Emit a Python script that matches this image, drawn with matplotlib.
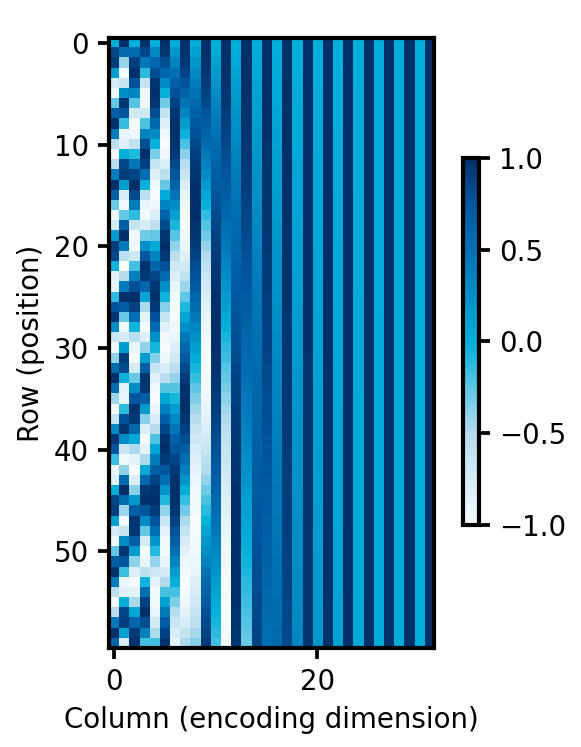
import matplotlib
matplotlib.use("Agg")
import matplotlib.pyplot as plt
from matplotlib.colors import LinearSegmentedColormap
import numpy as np

# values, one list per column, rows 0..59 top to bottom
col_00 = [0, .84, .91, .14, -.76, -.96, -.28, .66, .99, .41, -.54, -1.0, -.54, .42, .99, .65, -.29, -.96, -.75, .15, .91, .84, -.01, -.85, -.91, -.13, .76, .96, .27, -.66, -.99, -.40, .55, 1.0, .53, -.43, -.99, -.64, .30, .96, .75, -.16, -.92, -.83, .02, .85, .90, .12, -.77, -.95, -.26, .67, .99, .40, -.56, -1.0, -.52, .44, .99, .64]
col_01 = [1, .54, -.42, -.99, -.65, .28, .96, .75, -.15, -.91, -.84, 0, .84, .91, .14, -.76, -.96, -.28, .66, .99, .41, -.55, -1.0, -.53, .42, .99, .65, -.29, -.96, -.75, .15, .91, .83, -.01, -.85, -.90, -.13, .77, .96, .27, -.67, -.99, -.40, .56, 1.0, .53, -.43, -.99, -.64, .30, .96, .74, -.16, -.92, -.83, .02, .85, .90, .12, -.77]
col_02 = [0, .53, .90, .99, .78, .32, -.23, -.71, -.98, -.94, -.61, -.10, .45, .86, 1.0, .84, .41, -.13, -.64, -.95, -.97, -.69, -.19, .36, .80, 1.0, .88, .50, -.04, -.56, -.92, -.99, -.75, -.29, .27, .74, .98, .93, .58, .06, -.48, -.87, -1.0, -.81, -.38, .17, .67, .96, .96, .66, .16, -.39, -.82, -1.0, -.87, -.47, .07, .60, .93, .98]
col_03 = [1, .85, .43, -.12, -.63, -.95, -.97, -.70, -.21, .34, .79, 1.0, .89, .51, -.02, -.55, -.91, -.99, -.77, -.31, .25, .73, .98, .93, .60, .08, -.47, -.87, -1.0, -.83, -.40, .15, .65, .96, .96, .67, .17, -.38, -.81, -1.0, -.88, -.48, .06, .58, .93, .99, .74, .27, -.28, -.75, -.99, -.92, -.57, -.04, .50, .88, 1.0, .80, .36, -.19]
col_04 = [0, .31, .59, .81, .95, 1.0, .95, .80, .57, .29, -.02, -.33, -.61, -.83, -.96, -1.0, -.94, -.79, -.56, -.27, .04, .35, .62, .84, .96, 1.0, .93, .77, .54, .25, -.06, -.37, -.64, -.85, -.97, -1.0, -.92, -.76, -.53, -.22, .08, .39, .66, .86, .98, 1.0, .92, .75, .51, .20, -.10, -.41, -.68, -.87, -.98, -.99, -.91, -.73, -.48, -.18]
col_05 = [1, .95, .81, .58, .30, -.01, -.32, -.60, -.82, -.96, -1.0, -.94, -.79, -.56, -.28, .03, .34, .62, .83, .96, 1.0, .94, .78, .55, .26, -.05, -.36, -.63, -.84, -.97, -1.0, -.93, -.77, -.53, -.24, .07, .38, .65, .85, .97, 1.0, .92, .75, .51, .21, -.09, -.40, -.67, -.86, -.98, -.99, -.91, -.74, -.49, -.19, .11, .42, .68, .88, .98]
col_06 = [0, .18, .35, .51, .65, .78, .88, .95, .99, 1.0, .98, .93, .85, .74, .61, .46, .29, .12, -.06, -.23, -.40, -.56, -.70, -.81, -.90, -.97, -1.0, -1.0, -.96, -.90, -.81, -.70, -.56, -.40, -.24, -.06, .12, .29, .46, .61, .74, .85, .93, .98, 1.0, .99, .95, .88, .77, .65, .51, .35, .17, 0, -.18, -.35, -.51, -.65, -.78, -.88]
col_07 = [1, .98, .94, .86, .76, .63, .48, .32, .15, -.03, -.21, -.38, -.53, -.67, -.79, -.89, -.96, -.99, -1.0, -.97, -.92, -.83, -.72, -.58, -.43, -.26, -.09, .09, .26, .43, .58, .72, .83, .92, .97, 1.0, .99, .96, .89, .79, .67, .53, .38, .20, .02, -.15, -.32, -.48, -.63, -.76, -.86, -.94, -.98, -1.0, -.98, -.94, -.86, -.76, -.63, -.48]
col_08 = [0, .10, .20, .30, .39, .48, .56, .64, .72, .78, .84, .89, .93, .96, .99, 1.0, 1.0, .99, .97, .95, .91, .86, .81, .75, .68, .60, .52, .43, .33, .24, .14, .04, -.06, -.16, -.26, -.35, -.44, -.53, -.61, -.69, -.76, -.82, -.87, -.92, -.95, -.98, -.99, -1.0, -1.0, -.98, -.96, -.93, -.88, -.83, -.77, -.71, -.63, -.55, -.46, -.37]
col_09 = [1, 1.0, .98, .96, .92, .88, .83, .76, .70, .62, .54, .45, .36, .27, .17, .07, -.03, -.13, -.23, -.32, -.42, -.50, -.59, -.67, -.74, -.80, -.86, -.90, -.94, -.97, -.99, -1.0, -1.0, -.99, -.97, -.94, -.90, -.85, -.80, -.73, -.65, -.57, -.49, -.40, -.30, -.21, -.11, -.01, .09, .19, .28, .38, .47, .56, .63, .71, .78, .83, .88, .93]
col_10 = [0, .06, .11, .17, .22, .28, .33, .38, .43, .48, .53, .58, .62, .67, .71, .75, .78, .82, .85, .88, .90, .92, .94, .96, .98, .99, .99, 1.0, 1.0, 1.0, .99, .98, .97, .96, .94, .92, .90, .87, .84, .81, .78, .74, .70, .66, .62, .57, .53, .48, .43, .38, .32, .27, .22, .16, .10, .05, -.01, -.06, -.12, -.18]
col_11 = [1, 1.0, .99, .99, .97, .96, .94, .92, .90, .87, .85, .81, .78, .74, .71, .67, .62, .58, .53, .48, .43, .38, .33, .27, .22, .16, .11, .05, 0, -.06, -.12, -.17, -.23, -.28, -.33, -.39, -.44, -.49, -.54, -.58, -.63, -.67, -.71, -.75, -.79, -.82, -.85, -.88, -.90, -.93, -.95, -.96, -.98, -.99, -.99, -1.0, -1.0, -1.0, -.99, -.98]
col_12 = [0, .03, .06, .09, .13, .16, .19, .22, .25, .28, .31, .34, .37, .40, .43, .46, .49, .51, .54, .57, .59, .62, .64, .66, .69, .71, .73, .75, .77, .79, .81, .83, .85, .87, .88, .89, .91, .92, .93, .94, .95, .96, .97, .98, .99, .99, .99, 1.0, 1.0, 1.0, 1.0, 1.0, 1.0, .99, .99, .99, .98, .97, .96, .96]
col_13 = [1, 1.0, 1.0, 1.0, .99, .99, .98, .98, .97, .96, .95, .94, .93, .91, .90, .89, .87, .85, .84, .82, .81, .78, .76, .74, .73, .70, .68, .65, .63, .60, .58, .55, .53, .50, .47, .44, .42, .39, .36, .33, .30, .27, .24, .21, .17, .14, .11, .08, .05, .02, -.01, -.04, -.08, -.11, -.14, -.17, -.20, -.23, -.26, -.29]
col_14 = [0, .02, .04, .05, .07, .09, .11, .12, .14, .16, .18, .19, .21, .23, .25, .26, .28, .30, .31, .33, .35, .37, .38, .40, .42, .43, .45, .46, .48, .50, .51, .53, .54, .56, .57, .59, .60, .61, .63, .64, .65, .67, .68, .69, .71, .72, .73, .74, .75, .76, .78, .79, .80, .81, .82, .83, .84, .85, .86, .86]
col_15 = [1, 1, 1, 1, 1, 1, .99, .99, .99, .99, .98, .98, .98, .97, .97, .96, .96, .95, .95, .94, .94, .93, .92, .92, .91, .90, .89, .89, .88, .87, .86, .85, .84, .83, .82, .81, .80, .79, .78, .76, .75, .74, .73, .72, .71, .69, .68, .67, .65, .64, .63, .61, .60, .59, .57, .56, .54, .53, .51, .50]
col_16 = [0, .01, .02, .03, .04, .05, .06, .07, .08, .09, .10, .11, .12, .13, .14, .15, .16, .17, .18, .19, .20, .21, .22, .23, .24, .25, .26, .27, .28, .29, .30, .31, .32, .32, .33, .34, .35, .36, .37, .38, .39, .40, .41, .42, .43, .43, .44, .45, .46, .47, .48, .49, .50, .51, .51, .52, .53, .54, .55, .56]
col_17 = [1.0]*10 + [.99]*8 + [.98]*5 + [.97]*4 + [.96]*4 + [.95]*3 + [.94]*3 + [.93]*3 + [.92]*2 + [.91]*3 + [.90]*2 + [.89]*2 + [.88]*2 + [.87]*2 + [.86]*2 + [.85]*2 + [.84]*2 + [.83]
col_18 = [0, .01, .01, .02, .02, .03, .03, .04, .04, .05, .06, .06, .07, .07, .08, .08, .09, .10, .10, .11, .11, .12, .12, .13, .13, .14, .15, .15, .16, .16, .17, .17, .18, .18, .19, .19, .20, .21, .21, .22, .22, .23, .23, .24, .24, .25, .25, .26, .27, .27, .28, .28, .29, .29, .30, .30, .31, .31, .32, .33]
col_19 = [1.0]*18 + [.99]*13 + [.98]*9 + [.97]*8 + [.96]*6 + [.95]*6
col_20 = [0, 0, .01, .01, .01, .02, .02, .02, .03, .03, .03, .03, .04, .04, .04, .05, .05, .05, .06, .06, .06, .07, .07, .07, .08, .08, .08, .09, .09, .09, .09, .10, .10, .10, .11, .11, .11, .12, .12, .12, .13, .13, .13, .14, .14, .14, .15, .15, .15, .15, .16, .16, .16, .17, .17, .17, .18, .18, .18, .19]
col_21 = [1.0]*32 + [.99]*23 + [.98]*5
col_22 = [0.0]*3 + [.01]*6 + [.02]*6 + [.03]*5 + [.04]*6 + [.05]*5 + [.06]*6 + [.07]*6 + [.08]*5 + [.09]*6 + [.10]*5 + [.11]
col_23 = [1.0]*56 + [.99]*4
col_24 = [0.0]*5 + [.01]*10 + [.02]*10 + [.03]*10 + [.04]*10 + [.05]*10 + [.06]*5
col_25 = [1.0]*60
col_26 = [0.0]*9 + [.01]*18 + [.02]*18 + [.03]*15
col_27 = [1.0]*60
col_28 = [0.0]*16 + [.01]*32 + [.02]*12
col_29 = [1.0]*60
col_30 = [0.0]*29 + [.01]*31
col_31 = [1.0]*60

columns = [col_00, col_01, col_02, col_03, col_04, col_05, col_06, col_07,
           col_08, col_09, col_10, col_11, col_12, col_13, col_14, col_15,
           col_16, col_17, col_18, col_19, col_20, col_21, col_22, col_23,
           col_24, col_25, col_26, col_27, col_28, col_29, col_30, col_31]

x_ticks = [0, 20]
y_ticks = [0, 10, 20, 30, 40, 50]
cbar_ticks = [-1.0, -0.5, 0.0, 0.5, 1.0]

W, H = 581, 747
plt.rcParams['font.family'] = 'DejaVu Sans'
plt.rcParams['font.size'] = 6.65
plt.rcParams['axes.linewidth'] = 1.0

cmap = LinearSegmentedColormap.from_list("pos_blues", [
    (0.00, "#f5fbff"),
    (0.25, "#b5dcee"),
    (0.50, "#00b0da"),
    (0.75, "#0070b4"),
    (0.88, "#00559c"),
    (1.00, "#00306a"),
])

fig = plt.figure(figsize=(W / 300, H / 300), dpi=300)

def box(left, top, right, bottom):
    return [left / W, 1 - bottom / H, (right - left) / W, (bottom - top) / H]

ax = fig.add_axes(box(109, 38, 434, 648))
data = np.column_stack(columns)
im = ax.imshow(data, cmap=cmap, vmin=-1, vmax=1, aspect='auto', interpolation='nearest')
ax.set_xticks(x_ticks)
ax.set_yticks(y_ticks)
ax.set_xlabel("Column (encoding dimension)", labelpad=2.5)
ax.set_ylabel("Row (position)", labelpad=2.0)
ax.tick_params(length=2.6, width=0.9, pad=2.2)

cax = fig.add_axes(box(463, 158, 479, 525))
cbar = fig.colorbar(im, cax=cax, ticks=cbar_ticks)
cbar.outline.set_linewidth(1.0)
cax.tick_params(length=2.6, width=0.9, pad=2.2)

fig.savefig("out.png", dpi=300)
